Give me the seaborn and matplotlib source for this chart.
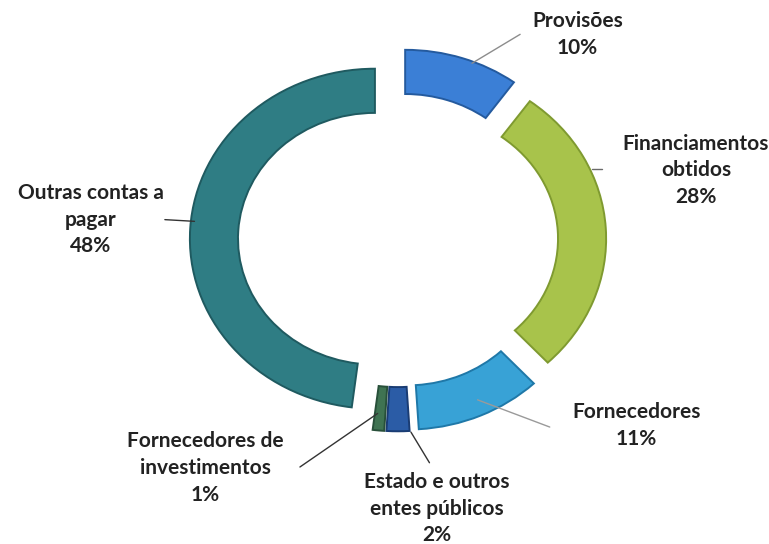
import numpy as np
import matplotlib
matplotlib.use("Agg")
import matplotlib.pyplot as plt
import seaborn as sns

# data (clockwise from the top)
categories = ["Provisões", "Financiamentos\nobtidos", "Fornecedores",
              "Estado e outros\nentes públicos", "Fornecedores de\ninvestimentos",
              "Outras contas a\npagar"]
shares = [10, 28, 11, 2, 1, 48]
colors = ["#3b7fd6", "#a8c34b", "#38a2d6", "#2b5ca6", "#3f7352", "#2f7d84"]
edge_colors = ["#245a9e", "#7f9a30", "#1f78a8", "#1a3c73", "#28503a", "#1f5a60"]

# label layout: text centre, leader start, leader end (data units, radius = 1)
label_pos = [(0.97, 1.21), (1.61, 0.41), (1.29, -1.09),
             (0.21, -1.58), (-1.04, -1.34), (-1.66, 0.12)]
leader_from = [(0.40, 1.04), (1.05, 0.42), (0.43, -0.94),
               (0.07, -1.13), (-0.11, -1.02), (-1.26, 0.12)]
leader_to = [(0.66, 1.21), (1.10, 0.42), (0.82, -1.10),
             (0.17, -1.31), (-0.53, -1.335), (-1.10, 0.11)]
leader_col = ["#8c8c8c", "#6a6a6a", "#9a9a9a", "#333333", "#333333", "#333333"]

sns.set_theme(style="white")
plt.rcParams["font.family"] = ["Lato", "DejaVu Sans"]

fig = plt.figure(figsize=(7.69, 5.44), dpi=100)
ax = fig.add_axes([0, 0, 1, 1])

wedges, _ = ax.pie(shares, colors=colors, startangle=90, counterclock=False,
                   explode=[0.125] * len(shares), radius=1.0,
                   wedgeprops=dict(width=0.26, linewidth=1.4))
for w, ec in zip(wedges, edge_colors):
    w.set_edgecolor(ec)

for cat, val, pos, p0, p1, lc in zip(categories, shares, label_pos,
                                      leader_from, leader_to, leader_col):
    ax.plot([p0[0], p1[0]], [p0[1], p1[1]], color=lc, lw=1.0)
    ax.text(pos[0], pos[1], f"{cat}\n{val}%", ha="center", va="center",
            fontsize=15, fontweight="bold", color="#222222",
            linespacing=1.42)

# the scanned chart is slightly stretched horizontally
ax.set_aspect("auto")
ax.set_xlim(-2.151, 2.005)
ax.set_ylim(-1.788, 1.412)
ax.axis("off")

fig.savefig("out.png", dpi=100)
